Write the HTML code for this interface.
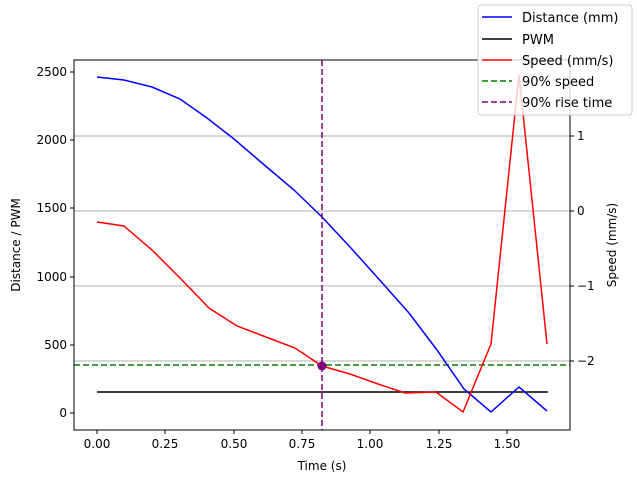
<!DOCTYPE html>
<html><head><style>body{margin:0;background:#fff}</style></head><body>
<svg width="637" height="483" xmlns="http://www.w3.org/2000/svg" font-family="DejaVu Sans, Liberation Sans, sans-serif" font-size="13">
<g stroke="#b0b0b0" stroke-width="1">
<line x1="74" y1="136" x2="570" y2="136"/><line x1="74" y1="211" x2="570" y2="211"/><line x1="74" y1="286" x2="570" y2="286"/><line x1="74" y1="361" x2="570" y2="361"/>
</g>
<line x1="74" y1="365" x2="570" y2="365" stroke="green" stroke-width="1.5" stroke-dasharray="6,3"/>
<line x1="97" y1="392" x2="548" y2="392" stroke="#000" stroke-width="1.5"/>
<polyline fill="none" stroke="blue" stroke-width="1.5" points="97,77 124,80 152,87 180,99 207,118 234,139 262,163 294,190 322,217 350,247 377,277 409,313 437,350 464,389 491,412 519,387 547,411"/>
<polyline fill="none" stroke="red" stroke-width="1.5" points="97,222 124,226 152,250 180,278 209,308 237,326 266,337 295,348 322,366 350,374 378,384 405,393 436,392 463,412 491,344 519,75 547,344"/>
<line x1="322" y1="60" x2="322" y2="430" stroke="purple" stroke-width="1.5" stroke-dasharray="6,3"/>
<circle cx="322" cy="366" r="4.5" fill="purple"/>
<rect x="74" y="60" width="496" height="370" fill="none" stroke="#000" stroke-width="1"/>
<g stroke="#000">
<line x1="97" y1="430" x2="97" y2="434"/><line x1="165" y1="430" x2="165" y2="434"/><line x1="234" y1="430" x2="234" y2="434"/><line x1="302" y1="430" x2="302" y2="434"/><line x1="370" y1="430" x2="370" y2="434"/><line x1="439" y1="430" x2="439" y2="434"/><line x1="507" y1="430" x2="507" y2="434"/>
<line x1="70" y1="72" x2="74" y2="72"/><line x1="70" y1="140" x2="74" y2="140"/><line x1="70" y1="208" x2="74" y2="208"/><line x1="70" y1="277" x2="74" y2="277"/><line x1="70" y1="345" x2="74" y2="345"/><line x1="70" y1="413" x2="74" y2="413"/>
<line x1="570" y1="136" x2="574" y2="136"/><line x1="570" y1="211" x2="574" y2="211"/><line x1="570" y1="286" x2="574" y2="286"/><line x1="570" y1="361" x2="574" y2="361"/>
</g>
<g font-size="12" text-anchor="middle">
<text x="97" y="448">0.00</text><text x="165" y="448">0.25</text><text x="234" y="448">0.50</text><text x="302" y="448">0.75</text><text x="370" y="448">1.00</text><text x="439" y="448">1.25</text><text x="507" y="448">1.50</text>
</g>
<g font-size="12" text-anchor="end">
<text x="67" y="76">2500</text><text x="67" y="144">2000</text><text x="67" y="212">1500</text><text x="67" y="281">1000</text><text x="67" y="349">500</text><text x="67" y="417">0</text>
</g>
<g font-size="12">
<text x="577" y="140">1</text><text x="577" y="215">0</text><text x="577" y="290">−1</text><text x="577" y="365">−2</text>
</g>
<text x="322" y="470" text-anchor="middle" font-size="12">Time (s)</text>
<text transform="translate(20,245) rotate(-90)" text-anchor="middle" font-size="12">Distance / PWM</text>
<text transform="translate(616,245) rotate(-90)" text-anchor="middle" font-size="12">Speed (mm/s)</text>
<rect x="478" y="5" width="154" height="110" rx="3" fill="#fff" fill-opacity="0.8" stroke="#ccc"/>
<g stroke-width="1.5">
<line x1="482" y1="17" x2="512" y2="17" stroke="blue"/>
<line x1="482" y1="39" x2="512" y2="39" stroke="#000"/>
<line x1="482" y1="60" x2="512" y2="60" stroke="red"/>
<line x1="482" y1="81" x2="512" y2="81" stroke="green" stroke-dasharray="6,3"/>
<line x1="482" y1="102" x2="512" y2="102" stroke="purple" stroke-dasharray="6,3"/>
</g>
<g font-size="13">
<text x="522" y="22">Distance (mm)</text><text x="522" y="44">PWM</text><text x="522" y="65">Speed (mm/s)</text><text x="522" y="86">90% speed</text><text x="522" y="107">90% rise time</text>
</g>
</svg>
</body></html>
